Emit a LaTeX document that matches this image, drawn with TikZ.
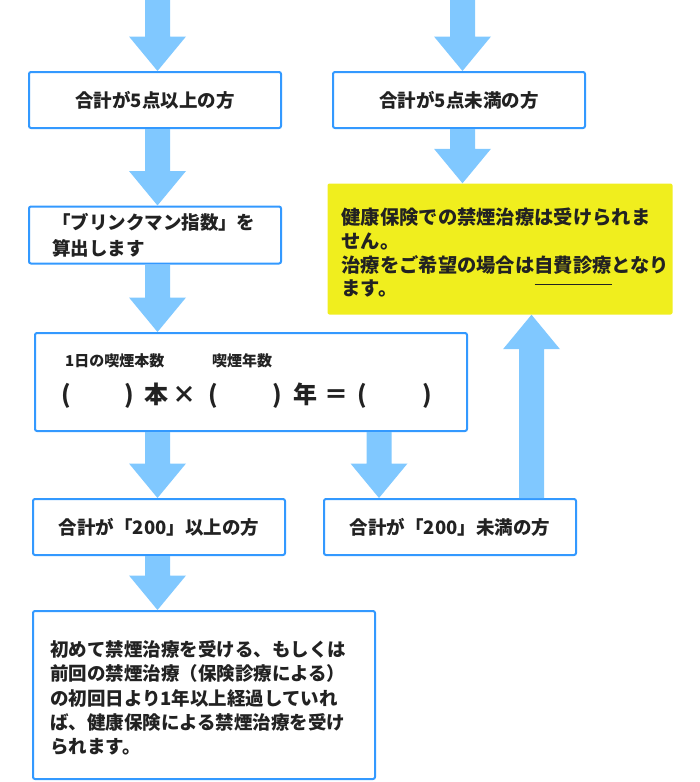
\documentclass[tikz,border=0pt]{standalone}
\usepackage{fontspec}
\setmainfont{Noto Sans CJK JP}
\usepackage{tikz}
\usetikzlibrary{calc}
\definecolor{flowblue}{HTML}{80C8FF}
\definecolor{lineblue}{HTML}{3399FF}
\definecolor{noteyellow}{HTML}{F0EE1E}
\definecolor{textdark}{HTML}{222222}
\tikzset{
  flowbox/.style={draw=lineblue,line width=2pt,rounded corners=2pt,fill=white,
    minimum width=252pt,minimum height=56pt,inner sep=0pt,text=textdark,
    font=\bfseries\fontsize{18.5}{24}\selectfont},
  formula/.style={anchor=base,inner sep=0pt,text=textdark,
    font=\bfseries\fontsize{24}{27}\selectfont},
  smalllabel/.style={anchor=base west,inner sep=0pt,text=textdark,
    font=\bfseries\fontsize{15}{17}\selectfont}
}
% fat vertical arrow from #1 down (or up) to the level of #2
\newcommand\fatflow[2]{%
  \path (#1) coordinate (fa) (fa |- #2) coordinate (fb);
  \path ($(fb)!34.5pt!(fa)$) coordinate (hb);
  \fill[flowblue] ($(fa)!12.5pt!90:(fb)$) -- ($(hb)!12.5pt!-90:(fa)$)
    -- ($(hb)!28.5pt!-90:(fa)$) -- (fb) -- ($(hb)!28.5pt!90:(fa)$)
    -- ($(hb)!12.5pt!90:(fa)$) -- ($(fa)!12.5pt!-90:(fb)$) -- cycle;
}
\newcommand\lowline[1]{\setbox0=\hbox{#1}\rlap{\smash{\rule[-12.5pt]{\wd0}{0.8pt}}}\box0}

\begin{document}
\begin{tikzpicture}[x=1pt,y=-1pt]
  \useasboundingbox (0,0) rectangle (700,782);
  \coordinate (colL) at (157.5,0);
  \coordinate (colR) at (462.5,0);
  \coordinate (colM) at (379,0);
  \coordinate (colU) at (531.5,0);

  % left column
  \node[flowbox] (b1) at (155,100) {合計が5点以上の方};
  \node[flowbox,minimum height=57pt,text width=206pt,inner xsep=23pt,align=left,
    font=\bfseries\fontsize{18.5}{26}\selectfont] (b2) at (155,235)
    {「ブリンクマン指数」を\\算出します};
  \node[flowbox,minimum width=432pt,minimum height=98pt] (fm) at (251,382) {};
  \node[smalllabel] (lbd) at (65,366) {1日の喫煙本数};
  \node[smalllabel] (lby) at (212,366) {喫煙年数};
  \foreach \c/\x [count=\i] in {{(}/66,{)}/129,本/156,×/184,{(}/213,{)}/277,年/305,＝/336,{(}/362,{)}/427}
    \node[formula] (f\i) at (\x,403) {\c};
  \node[flowbox] (b4) at (159,527) {合計が「200」以上の方};
  \node[flowbox,anchor=north west,minimum width=342pt,minimum height=168pt,
    text width=308pt,inner xsep=16pt,align=left,
    font=\bfseries\fontsize{18.5}{24.3}\selectfont] (b6) at (32,610)
    {\rule{0pt}{22pt}初めて禁煙治療を受ける、もしくは\\前回の禁煙治療（保険診療による）\\の初回日より1年以上経過していれ\\ば、健康保険による禁煙治療を受け\\られます。};

  % right column
  \node[flowbox] (r1) at (459,100) {合計が5点未満の方};
  \node[fill=noteyellow,rounded corners=2pt,minimum width=345pt,minimum height=131pt,
    text width=317pt,inner xsep=14pt,align=left,text=textdark,
    font=\bfseries\fontsize{19.3}{23.7}\selectfont] (ye) at (500,249)
    {\rule{0pt}{24pt}健康保険での禁煙治療は受けられま\\せん。\\治療をご希望の場合は\lowline{自費診療}となり\\ます。};
  \node[flowbox] (b5) at (450,527) {合計が「200」未満の方};

  % arrows
  \fatflow{colL}{b1.north}
  \fatflow{b1.south -| colL}{b2.north}
  \fatflow{b2.south -| colL}{fm.north}
  \fatflow{fm.south -| colL}{b4.north}
  \fatflow{b4.south -| colL}{b6.north}
  \fatflow{colR}{r1.north}
  \fatflow{r1.south -| colR}{ye.north}
  \fatflow{fm.south -| colM}{b5.north}
  \fatflow{b5.north -| colU}{ye.south}
\end{tikzpicture}
\end{document}
